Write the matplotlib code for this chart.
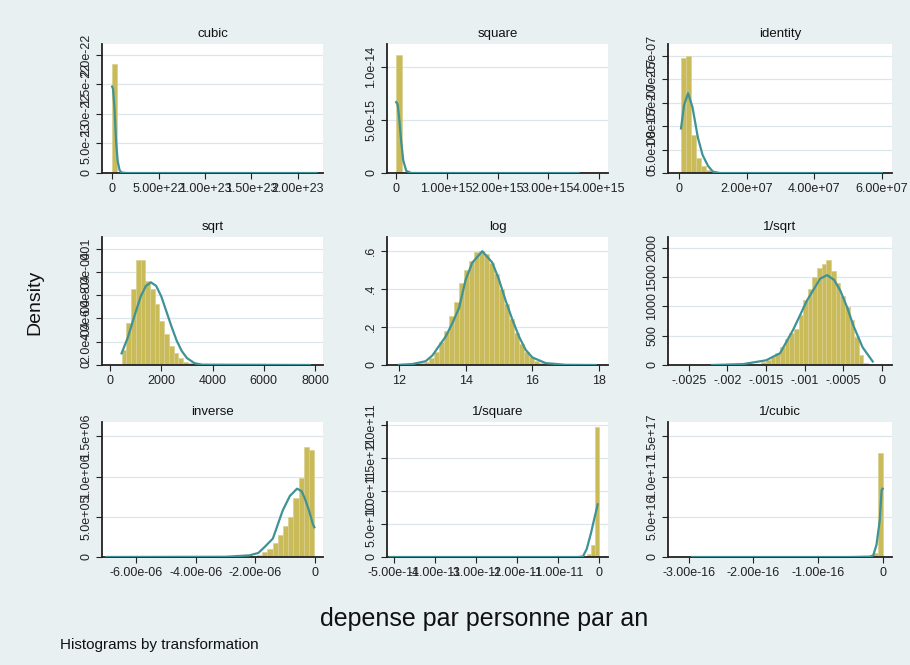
import matplotlib.pyplot as plt

plt.rcParams['font.family'] = ['Liberation Sans', 'DejaVu Sans']

# ---- data (scaled units noted per panel) ----
# cubic: x in 1e21, y in 1e-22
cubic_left = [0.0]
cubic_width = 5.5
cubic_heights = [1.85]
cubic_curve_x = [0.0, 1.0, 2.5, 4.3, 6.0, 8.0, 10.0, 15.0, 220.0]
cubic_curve_y = [1.46, 1.42, 1.10, 0.52, 0.20, 0.05, 0.01, 0.0, 0.0]
cubic_xticks = [0, 50, 100, 150, 200]
cubic_xlabels = ["0", "5.00e+22", "1.00e+23", "1.50e+23", "2.00e+23"]
cubic_yticks = [0, 0.5, 1.0, 1.5, 2.0]
cubic_ylabels = ["0", "5.0e-23", "1.0e-22", "1.5e-22", "2.0e-22"]

# square: x in 1e15, y in 1e-15
square_left = [0.0]
square_width = 0.11
square_heights = [11.2]
square_curve_x = [0.0, 0.03, 0.06, 0.10, 0.14, 0.20, 0.30, 3.6]
square_curve_y = [6.7, 6.5, 5.2, 3.0, 1.2, 0.2, 0.0, 0.0]
square_xticks = [0, 1, 2, 3, 4]
square_xlabels = ["0", "1.00e+15", "2.00e+15", "3.00e+15", "4.00e+15"]
square_yticks = [0, 5, 10]
square_ylabels = ["0", "5.0e-15", "1.0e-14"]

# identity: x in 1e6, y in 1e-7
ident_start = 0.6
ident_width = 1.5
ident_heights = [2.45, 2.5, 0.8, 0.33, 0.15, 0.06, 0.03, 0.015, 0.008, 0.004]
ident_curve_x = [0.6, 1.5, 2.7, 4.0, 5.6, 7.0, 8.6, 10.0, 12.0, 60.0]
ident_curve_y = [0.95, 1.45, 1.70, 1.40, 0.75, 0.38, 0.15, 0.03, 0.0, 0.0]
ident_xticks = [0, 20, 40, 60]
ident_xlabels = ["0", "2.00e+07", "4.00e+07", "6.00e+07"]
ident_yticks = [0, 0.5, 1.0, 1.5, 2.0, 2.5]
ident_ylabels = ["0", "5.0e-08", "1.0e-07", "1.5e-07", "2.0e-07", "2.5e-07"]

# sqrt: x raw, y in 1e-4
sqrt_start = 450
sqrt_width = 185
sqrt_heights = [1.3, 3.6, 6.5, 9.0, 9.0, 7.2, 6.5, 5.2, 3.8, 2.7, 1.6, 1.0,
                0.6, 0.3, 0.15, 0.07, 0.03, 0.02, 0.01, 0.01]
sqrt_curve_x = [450, 700, 950, 1200, 1400, 1600, 1800, 2000, 2200, 2400,
                2600, 2800, 3000, 3300, 3600, 7800]
sqrt_curve_y = [1.0, 2.4, 4.2, 5.9, 6.8, 7.1, 6.8, 5.9, 4.6, 3.3,
                2.1, 1.2, 0.6, 0.15, 0.03, 0.0]
sqrt_xticks = [0, 2000, 4000, 6000, 8000]
sqrt_xlabels = ["0", "2000", "4000", "6000", "8000"]
sqrt_yticks = [0, 2, 4, 6, 8, 10]
sqrt_ylabels = ["0", "2.0e-04", "4.0e-04", "6.0e-04", "8.0e-04", ".001"]

# log
log_start = 12.0
log_width = 0.15
log_heights = [0.0005, 0.001, 0.002, 0.004, 0.008, 0.018, 0.035, 0.07, 0.12, 0.18,
               0.26, 0.33, 0.43, 0.50, 0.55, 0.595, 0.60, 0.585, 0.54, 0.48,
               0.40, 0.32, 0.24, 0.17, 0.11, 0.07, 0.04, 0.022, 0.011, 0.006,
               0.003, 0.0015, 0.001, 0.0005, 0.0003, 0.0002, 0.0002, 0.0001, 0.0001, 0.0001]
log_curve_x = [12.0, 12.4, 12.8, 13.0, 13.4, 13.6, 13.8, 14.0, 14.2, 14.5, 14.8,
               15.0, 15.2, 15.4, 15.6, 15.8, 16.0, 16.4, 17.0, 17.9]
log_curve_y = [0.001, 0.005, 0.02, 0.05, 0.15, 0.22, 0.30, 0.45, 0.54, 0.60, 0.54,
               0.45, 0.34, 0.24, 0.15, 0.08, 0.04, 0.01, 0.001, 0.0]
log_xticks = [12, 14, 16, 18]
log_xlabels = ["12", "14", "16", "18"]
log_yticks = [0, 0.2, 0.4, 0.6]
log_ylabels = ["0", ".2", ".4", ".6"]

# 1/sqrt: x in 1e-4, y raw
isqrt_start = -16.8
isqrt_width = 0.6
isqrt_heights = [10, 25, 50, 90, 140, 210, 300, 450, 540, 620, 850, 1100, 1300,
                 1500, 1650, 1720, 1790, 1600, 1400, 1180, 980, 760, 480, 170, 30, 5]
isqrt_curve_x = [-22.0, -18.0, -15.0, -13.2, -11.5, -9.7, -8.0, -7.1, -6.2, -5.4,
                 -4.5, -3.7, -2.5, -1.2]
isqrt_curve_y = [0, 15, 80, 200, 600, 1100, 1470, 1530, 1450, 1270, 980, 670, 300, 60]
isqrt_xticks = [-25, -20, -15, -10, -5, 0]
isqrt_xlabels = ["-.0025", "-.002", "-.0015", "-.001", "-.0005", "0"]
isqrt_yticks = [0, 500, 1000, 1500, 2000]
isqrt_ylabels = ["0", "500", "1000", "1500", "2000"]

# inverse: x in 1e-6, y in 1e6
inv_start = -7.02
inv_width = 0.175
inv_heights = [0.001, 0.001, 0.002, 0.001, 0.002, 0.002, 0.003, 0.002, 0.003, 0.003,
               0.004, 0.003, 0.004, 0.005, 0.004, 0.005, 0.006, 0.005, 0.006, 0.007,
               0.008, 0.008, 0.009, 0.010, 0.012, 0.013, 0.015, 0.008, 0.015, 0.03,
               0.06, 0.10, 0.18, 0.27, 0.38, 0.50, 0.73, 0.98, 1.37, 1.33]
inv_curve_x = [-7.0, -3.0, -2.2, -1.9, -1.7, -1.41, -1.08, -0.84, -0.6, -0.45,
               -0.34, -0.2, -0.07, -0.02]
inv_curve_y = [0, 0.003, 0.02, 0.05, 0.12, 0.23, 0.58, 0.76, 0.85, 0.82,
               0.73, 0.58, 0.41, 0.37]
inv_xticks = [-6, -4, -2, 0]
inv_xlabels = ["-6.00e-06", "-4.00e-06", "-2.00e-06", "0"]
inv_yticks = [0, 0.5, 1.0, 1.5]
inv_ylabels = ["0", "5.0e+05", "1.0e+06", "1.5e+06"]

# 1/square: x in 1e-11, y in 1e11
isq_left = [-0.3, -0.2, -0.1]
isq_width = 0.1
isq_heights = [0.04, 0.18, 1.97]
isq_curve_x = [-5.1, -0.5, -0.39, -0.3, -0.2, -0.1, -0.03]
isq_curve_y = [0, 0, 0.01, 0.12, 0.35, 0.62, 0.8]
isq_xticks = [-5, -4, -3, -2, -1, 0]
isq_xlabels = ["-5.00e-11", "-4.00e-11", "-3.00e-11", "-2.00e-11", "-1.00e-11", "0"]
isq_yticks = [0, 0.5, 1.0, 1.5, 2.0]
isq_ylabels = ["0", "5.0e+10", "1.0e+11", "1.5e+11", "2.0e+11"]

# 1/cubic: x in 1e-16, y in 1e17
icub_left = [-0.15, -0.075]
icub_width = 0.075
icub_heights = [0.05, 1.29]
icub_curve_x = [-2.95, -0.5, -0.2, -0.15, -0.1, -0.05, -0.02, -0.005]
icub_curve_y = [0, 0, 0.005, 0.02, 0.15, 0.45, 0.83, 0.85]
icub_xticks = [-3, -2, -1, 0]
icub_xlabels = ["-3.00e-16", "-2.00e-16", "-1.00e-16", "0"]
icub_yticks = [0, 0.5, 1.0, 1.5]
icub_ylabels = ["0", "5.0e+16", "1.0e+17", "1.5e+17"]

titles = ["cubic", "square", "identity", "sqrt", "log", "1/sqrt",
          "inverse", "1/square", "1/cubic"]

BG = "#e9f0f2"
BAR = "#c9bb5a"
BAR_EDGE = "#d9d08e"
CURVE = "#3f9296"
GRID = "#dde6ea"

W, H = 910, 665
col_px = [(102, 323), (387, 608), (668, 892)]
row_px = [(44, 173), (237, 365), (422, 557)]


def edges(start, width, n):
    return [start + i * width for i in range(n)]


panels = [
    (cubic_left, cubic_width, cubic_heights, cubic_curve_x, cubic_curve_y,
     cubic_xticks, cubic_xlabels, cubic_yticks, cubic_ylabels, (-10.9, 227), (0, 2.18)),
    (square_left, square_width, square_heights, square_curve_x, square_curve_y,
     square_xticks, square_xlabels, square_yticks, square_ylabels, (-0.18, 4.18), (0, 12.2)),
    (edges(ident_start, ident_width, len(ident_heights)), ident_width, ident_heights,
     ident_curve_x, ident_curve_y, ident_xticks, ident_xlabels, ident_yticks, ident_ylabels,
     (-3.25, 63), (0, 2.75)),
    (edges(sqrt_start, sqrt_width, len(sqrt_heights)), sqrt_width, sqrt_heights,
     sqrt_curve_x, sqrt_curve_y, sqrt_xticks, sqrt_xlabels, sqrt_yticks, sqrt_ylabels,
     (-314, 8314), (0, 11.0)),
    (edges(log_start, log_width, len(log_heights)), log_width, log_heights,
     log_curve_x, log_curve_y, log_xticks, log_xlabels, log_yticks, log_ylabels,
     (11.64, 18.27), (0, 0.675)),
    (edges(isqrt_start, isqrt_width, len(isqrt_heights)), isqrt_width, isqrt_heights,
     isqrt_curve_x, isqrt_curve_y, isqrt_xticks, isqrt_xlabels, isqrt_yticks, isqrt_ylabels,
     (-27.7, 1.3), (0, 2180)),
    (edges(inv_start, inv_width, len(inv_heights)), inv_width, inv_heights,
     inv_curve_x, inv_curve_y, inv_xticks, inv_xlabels, inv_yticks, inv_ylabels,
     (-7.14, 0.27), (0, 1.68)),
    (isq_left, isq_width, isq_heights, isq_curve_x, isq_curve_y,
     isq_xticks, isq_xlabels, isq_yticks, isq_ylabels, (-5.17, 0.22), (0, 2.05)),
    (icub_left, icub_width, icub_heights, icub_curve_x, icub_curve_y,
     icub_xticks, icub_xlabels, icub_yticks, icub_ylabels, (-3.32, 0.14), (0, 1.68)),
]

fig = plt.figure(figsize=(W / 100, H / 100), dpi=100, facecolor=BG)

for k, p in enumerate(panels):
    left, width, heights, cx, cy, xt, xl, yt, yl, xlim, ylim = p
    r, c = divmod(k, 3)
    x0, x1 = col_px[c]
    y0, y1 = row_px[r]
    ax = fig.add_axes([x0 / W, 1 - y1 / H, (x1 - x0) / W, (y1 - y0) / H])
    ax.set_facecolor("white")
    ax.bar(left, heights, width=width, align="edge", color=BAR,
           edgecolor=BAR_EDGE, linewidth=0.5, zorder=2)
    ax.plot(cx, cy, color=CURVE, lw=1.6, zorder=3)
    ax.set_xlim(*xlim)
    ax.set_ylim(*ylim)
    ax.set_xticks(xt)
    ax.set_xticklabels(xl)
    ax.set_yticks(yt)
    ax.set_yticklabels(yl, rotation=90, va="center")
    for v in yt[1:]:
        ax.axhline(v, color=GRID, lw=0.9, zorder=1)
    for s in ["top", "right"]:
        ax.spines[s].set_visible(False)
    for s in ["left", "bottom"]:
        ax.spines[s].set_linewidth(1.3)
        ax.spines[s].set_color("#222222")
    ax.tick_params(length=4, width=0.8, labelsize=9, pad=3, colors="#222222")
    ax.set_title(titles[k], fontsize=9.5, pad=5, color="#111111")

fig.text(35 / W, 1 - 302 / H, "Density", rotation=90, fontsize=14,
         ha="center", va="center", color="#111111")
fig.text(484 / W, 1 - 619 / H, "depense par personne par an", fontsize=18,
         ha="center", va="center", color="#111111")
fig.text(60 / W, 1 - 645 / H, "Histograms by transformation", fontsize=11,
         ha="left", va="center", color="#111111")

fig.savefig("out.png", dpi=100, facecolor=BG)
